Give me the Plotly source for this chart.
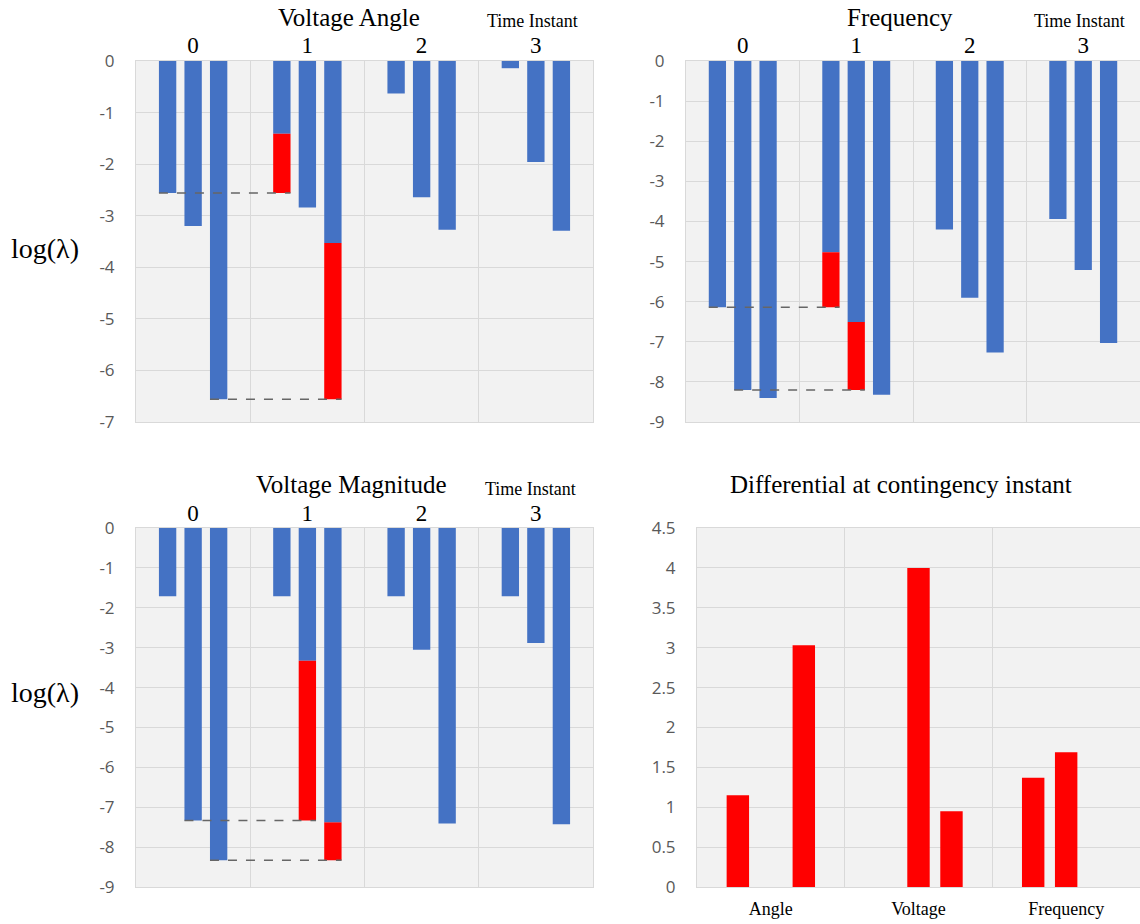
import plotly.graph_objects as go

# ---- data -------------------------------------------------------------
time_instants = [0, 1, 2, 3]
time_labels = ["0", "1", "2", "3"]

# log(lambda) per time instant, three eigenvalue series per quantity
angle_s1 = [-2.56, -1.41, -0.63, -0.14]
angle_s2 = [-3.20, -2.84, -2.64, -1.96]
angle_s3 = [-6.56, -3.53, -3.27, -3.29]

freq_s1 = [-6.14, -4.77, -4.20, -3.94]
freq_s2 = [-8.20, -6.51, -5.90, -5.21]
freq_s3 = [-8.40, -8.32, -7.27, -7.03]

vmag_s1 = [-1.71, -1.71, -1.71, -1.71]
vmag_s2 = [-7.33, -3.33, -3.05, -2.88]
vmag_s3 = [-8.33, -7.38, -7.41, -7.43]

# differential between instant 0 and the contingency instant (1)
diff_categories = ["Angle", "Voltage", "Frequency"]
diff_s1 = [1.15, None, 1.37]
diff_s2 = [None, 4.00, 1.69]
diff_s3 = [3.03, 0.95, None]

# y tick labels
ticks_angle = [0, -1, -2, -3, -4, -5, -6, -7]
ticks_nine = [0, -1, -2, -3, -4, -5, -6, -7, -8, -9]
ticks_diff = [0, 0.5, 1, 1.5, 2, 2.5, 3, 3.5, 4, 4.5]

# ---- style ------------------------------------------------------------
BLUE = "#4472C4"
RED = "#FF0000"
BG = "#F2F2F2"
GRID = "#D9D9D9"
TICK = "#595959"
SERIF = "Liberation Serif, Times New Roman, serif"
SANS = "Open Sans, Liberation Sans, sans-serif"
BARGAP = 0.33
GROUPGAP = 0.32

W, H = 1140, 924


def px_x(p):
    return p / W


def px_y(p):
    return 1 - p / H


fig = go.Figure()

panels = [
    # (axis suffix, series list, highlighted series index -> differential)
    ("", [angle_s1, angle_s2, angle_s3], {0: diff_s1[0], 2: diff_s3[0]}),
    ("2", [freq_s1, freq_s2, freq_s3], {0: diff_s1[2], 1: diff_s2[2]}),
    ("3", [vmag_s1, vmag_s2, vmag_s3], {1: diff_s2[1], 2: diff_s3[1]}),
]

group_w = 1 - BARGAP
slot = group_w / 3
bar_w = slot * (1 - GROUPGAP)

for suffix, series, highlights in panels:
    xa, ya = "x" + suffix, "y" + suffix
    for k, vals in enumerate(series):
        fig.add_trace(go.Bar(
            x=time_instants, y=vals, marker_color=BLUE, marker_line_width=0,
            offsetgroup=str(k), xaxis=xa, yaxis=ya, showlegend=False,
        ))
    for k, d in highlights.items():
        vals = series[k]
        # red segment spanning from the instant-0 level up to the instant-1 level
        fig.add_trace(go.Bar(
            x=[time_instants[1]], y=[d], base=[vals[0]], marker_color=RED,
            marker_line_width=0, offsetgroup=str(k), xaxis=xa, yaxis=ya,
            showlegend=False,
        ))
    for k, d in highlights.items():
        vals = series[k]
        centre = -group_w / 2 + (k + 0.5) * slot
        fig.add_trace(go.Scatter(
            x=[time_instants[0] + centre - bar_w / 2, time_instants[1] + centre + bar_w / 2],
            y=[vals[0], vals[0]], mode="lines",
            line=dict(color="#666666", width=1.5, dash="dash"),
            xaxis=xa, yaxis=ya, showlegend=False, hoverinfo="skip",
        ))

# differential panel
for k, vals in enumerate([diff_s1, diff_s2, diff_s3]):
    fig.add_trace(go.Bar(
        x=[0, 1, 2], y=vals, marker_color=RED, marker_line_width=0,
        offsetgroup=str(k), xaxis="x4", yaxis="y4", showlegend=False,
    ))


# ---- axes -------------------------------------------------------------
def xaxis(domain, anchor, side, labels, ticksize, standoff):
    return dict(
        domain=domain, anchor=anchor, side=side, range=[-0.5, len(labels) - 0.5],
        tickmode="array", tickvals=list(range(len(labels))), ticktext=labels,
        tickfont=dict(family=SERIF, size=ticksize, color="#000000"),
        showgrid=False, zeroline=False, ticks="",
        showline=True, mirror=True, linecolor=GRID, linewidth=1,
        minor=dict(tickmode="array", tickvals=[i + 0.5 for i in range(len(labels) - 1)],
                   showgrid=True, gridcolor=GRID, gridwidth=1, ticks=""),
        ticklabelstandoff=standoff, automargin=False, fixedrange=True,
    )


def yaxis(domain, anchor, rng, tick_values):
    return dict(
        domain=domain, anchor=anchor, range=rng,
        tickmode="array", tickvals=tick_values, ticktext=[f"{v:g}" for v in tick_values],
        tickfont=dict(family=SANS, size=17, color=TICK),
        showgrid=True, gridcolor=GRID, gridwidth=1, zeroline=False,
        showline=True, mirror=True, linecolor=GRID, linewidth=1,
        ticks="", ticklabelstandoff=17, automargin=False, fixedrange=True,
    )


left_x = [px_x(136), px_x(593)]
right_x = [px_x(686), 1.0]
top_y = [px_y(422), px_y(61)]
bot_y = [px_y(887), px_y(528)]

fig.update_layout(
    width=W, height=H, margin=dict(l=0, r=0, t=0, b=0, autoexpand=False),
    paper_bgcolor="white", plot_bgcolor=BG,
    barmode="group", bargap=BARGAP, bargroupgap=GROUPGAP,
    xaxis=xaxis(left_x, "y", "top", time_labels, 23, -2),
    yaxis=yaxis(top_y, "x", [-7, 0], ticks_angle),
    xaxis2=xaxis(right_x, "y2", "top", time_labels, 23, -2),
    yaxis2=yaxis(top_y, "x2", [-9, 0], ticks_nine),
    xaxis3=xaxis(left_x, "y3", "top", time_labels, 23, -3),
    yaxis3=yaxis(bot_y, "x3", [-9, 0], ticks_nine),
    xaxis4=xaxis([px_x(697), 1.0], "y4", "bottom", diff_categories, 18, 5),
    yaxis4=yaxis(bot_y, "x4", [0, 4.5], ticks_diff),
)


# ---- text -------------------------------------------------------------
def label(text, x, y, size, family=SERIF):
    fig.add_annotation(text=text, x=px_x(x), y=px_y(y), xref="paper", yref="paper",
                       showarrow=False, xanchor="center", yanchor="middle",
                       font=dict(family=family, size=size, color="#000000"))


label("Voltage Angle", 349, 18, 25)
label("Time Instant", 532, 21, 18)
label("Frequency", 900, 18, 25)
label("Time Instant", 1079, 21, 18)
label("Voltage Magnitude", 351, 485, 25)
label("Time Instant", 530, 489, 18)
label("Differential at contingency instant", 901, 485, 25)
label("log(λ)", 45, 248, 28)
label("log(λ)", 45, 692, 28)

fig.write_html("out.html")
